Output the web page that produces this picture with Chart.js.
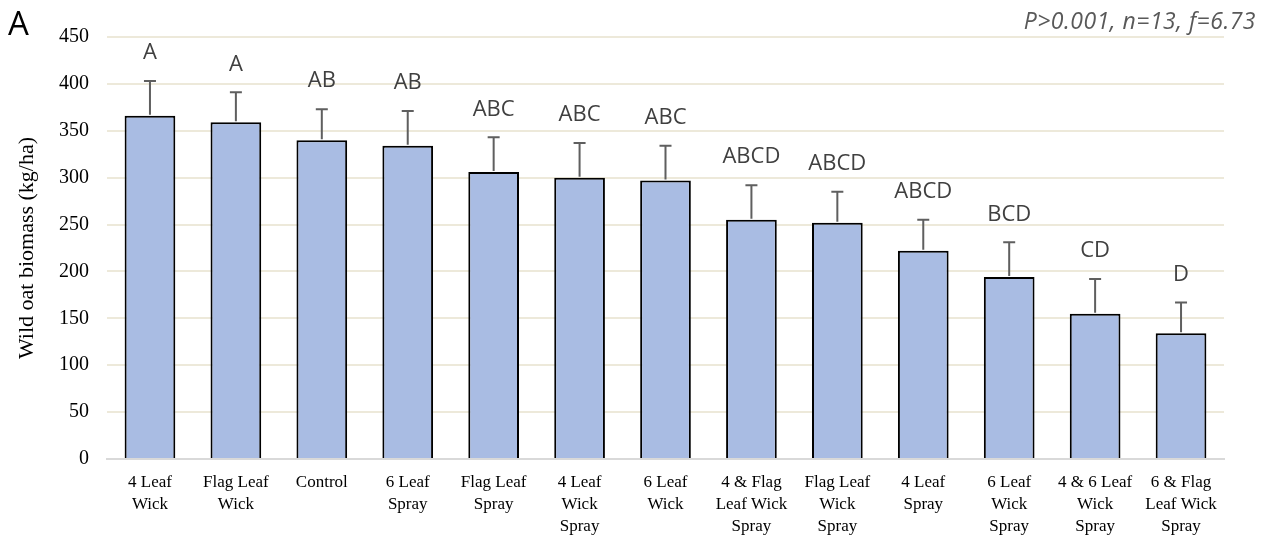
<!DOCTYPE html>
<html>
<head>
<meta charset="utf-8">
<script src="https://cdn.jsdelivr.net/npm/chart.js@4"></script>
<style>
  html, body { margin: 0; padding: 0; background: #fff; }
  #wrap { position: relative; width: 1263px; height: 538px; }
</style>
</head>
<body>
<div id="wrap"><canvas id="chartBiomasa" width="1263" height="538"></canvas></div>
<script>
const treatments = [
    ['4 Leaf', 'Wick'],
    ['Flag Leaf', 'Wick'],
    ['Control'],
    ['6 Leaf', 'Spray'],
    ['Flag Leaf', 'Spray'],
    ['4 Leaf', 'Wick', 'Spray'],
    ['6 Leaf', 'Wick'],
    ['4 & Flag', 'Leaf Wick', 'Spray'],
    ['Flag Leaf', 'Wick', 'Spray'],
    ['4 Leaf', 'Spray'],
    ['6 Leaf', 'Wick', 'Spray'],
    ['4 & 6 Leaf', 'Wick', 'Spray'],
    ['6 & Flag', 'Leaf Wick', 'Spray']
];
const biomass = [366, 359, 340, 334, 306, 300, 297, 255, 252, 222, 194, 155, 134];
const stdError = [37, 32, 33, 37, 37, 37, 37, 37, 33, 33, 37, 37, 33];
const letters = ['A', 'A', 'AB', 'AB', 'ABC', 'ABC', 'ABC', 'ABCD', 'ABCD', 'ABCD', 'BCD', 'CD', 'D'];
const yTicks = [0, 50, 100, 150, 200, 250, 300, 350, 400, 450];

// barras de error (solo hacia arriba) y letras de significancia
const errorBarsPlugin = {
    id: 'errorBars',
    afterDatasetsDraw(chart) {
        const ctx = chart.ctx;
        const y = chart.scales.y;
        const meta = chart.getDatasetMeta(0);
        ctx.save();
        meta.data.forEach((bar, i) => {
            const top = y.getPixelForValue(biomass[i] + stdError[i]);
            ctx.strokeStyle = '#5f5f5f';
            ctx.lineWidth = 2;
            ctx.beginPath();
            ctx.moveTo(bar.x, bar.y - 1);
            ctx.lineTo(bar.x, top);
            ctx.moveTo(bar.x - 6, top);
            ctx.lineTo(bar.x + 6, top);
            ctx.stroke();

            ctx.fillStyle = '#404040';
            ctx.font = '22px "Open Sans", sans-serif';
            ctx.textAlign = 'center';
            ctx.textBaseline = 'middle';
            ctx.fillText(letters[i], bar.x, top - 28);
        });

        ctx.textBaseline = 'alphabetic';
        ctx.fillStyle = '#000';
        ctx.font = '33px "Open Sans", sans-serif';
        ctx.textAlign = 'left';
        ctx.fillText('A', 8, 35);

        ctx.fillStyle = '#595959';
        ctx.font = 'italic 23px "Open Sans", sans-serif';
        ctx.letterSpacing = '0.5px';
        ctx.textAlign = 'right';
        ctx.fillText('P>0.001, n=13, f=6.73', 1256, 29);
        ctx.restore();
    }
};

const ctx = document.getElementById('chartBiomasa').getContext('2d');
const chartBiomasa = new Chart(ctx, {
    type: 'bar',
    data: {
        labels: treatments,
        datasets: [{
            label: 'Wild oat biomass',
            data: biomass,
            backgroundColor: '#a9bce3',
            borderColor: '#000000',
            borderWidth: 2,
            borderSkipped: 'bottom',
            categoryPercentage: 1,
            barPercentage: 0.59
        }]
    },
    options: {
        responsive: false,
        animation: false,
        layout: { padding: { top: 37, right: 39, left: 0, bottom: 0 } },
        plugins: {
            legend: { display: false },
            tooltip: { enabled: false }
        },
        scales: {
            x: {
                grid: { display: false, drawTicks: false },
                border: { color: '#d9d9d9', width: 2 },
                ticks: {
                    color: '#000',
                    font: { family: '"Liberation Serif", serif', size: 17, lineHeight: 1.3 },
                    padding: 12,
                    maxRotation: 0,
                    autoSkip: false
                },
                afterFit(scale) { scale.height = 79; }
            },
            y: {
                min: 0,
                max: 450,
                afterBuildTicks(scale) { scale.ticks = yTicks.map(v => ({ value: v })); },
                grid: { color: '#ede9da', lineWidth: 2, drawTicks: false },
                border: { display: false },
                ticks: {
                    color: '#000',
                    font: { family: '"Liberation Serif", serif', size: 20 },
                    padding: 18
                },
                title: {
                    display: true,
                    text: 'Wild oat biomass (kg/ha)',
                    color: '#000',
                    font: { family: '"Liberation Serif", serif', size: 22 },
                    padding: { top: 14, bottom: 0 }
                },
                afterFit(scale) { scale.width = 107; }
            }
        }
    },
    plugins: [errorBarsPlugin]
});
</script>
</body>
</html>
